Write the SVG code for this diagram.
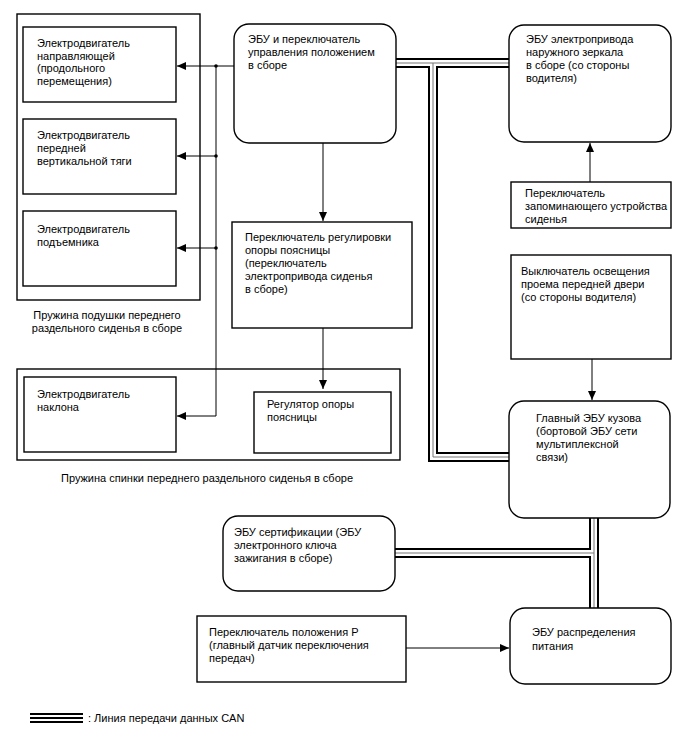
<svg xmlns="http://www.w3.org/2000/svg" width="688" height="755" viewBox="0 0 688 755">
<defs>
<style>
.box{fill:#fff;stroke:#000;stroke-width:1.4}
.grp{fill:none;stroke:#000;stroke-width:1.4}
.t{font-family:"Liberation Sans",Arial,sans-serif;font-size:11px;fill:#000}
.c{fill:none;stroke:#000;stroke-width:1}
.canA{fill:none;stroke:#000;stroke-width:10}
.canB{fill:none;stroke:#fff;stroke-width:6}
.canC{fill:none;stroke:#777;stroke-width:1}
</style>
<marker id="ah" markerWidth="10" markerHeight="8" refX="9" refY="4" orient="auto" markerUnits="userSpaceOnUse">
<path d="M0,0 L9,4 L0,8 Z" fill="#000"/>
</marker>
</defs>

<g id="connectors">
<path class="c" d="M234,66 H177" marker-end="url(#ah)"/>
<path class="c" d="M216,66 V416 H177" marker-end="url(#ah)"/>
<path class="c" d="M216,156 H177" marker-end="url(#ah)"/>
<path class="c" d="M216,248 H177" marker-end="url(#ah)"/>
<circle cx="216" cy="66" r="1.8"/>
<circle cx="216" cy="156" r="1.8"/>
<circle cx="216" cy="248" r="1.8"/>
<path class="c" d="M323,143 V221" marker-end="url(#ah)"/>
<path class="c" d="M323,328 V389" marker-end="url(#ah)"/>
<path class="c" d="M590,182 V143" marker-end="url(#ah)"/>
<path class="c" d="M592,359 V400" marker-end="url(#ah)"/>
<path class="c" d="M406,648 H509" marker-end="url(#ah)"/>
<g id="can">
<path class="canA" d="M396,63 H509 M433,63 V457 H509 M594,518 V608 M395,553 H594"/>
<path class="canB" d="M396,63 H509 M433,63 V457 H509 M594,518 V608 M395,553 H594"/>
<path class="canC" d="M396,63 H509 M433,63 V457 H509 M594,518 V608 M395,553 H594"/>
</g>
</g>

<g id="seat-cushion-group">
<rect class="grp" x="17" y="14" width="183" height="286"/>
<text class="t" x="107" y="319" text-anchor="middle">Пружина подушки переднего</text>
<text class="t" x="107" y="332" text-anchor="middle">раздельного сиденья в сборе</text>
</g>
<g id="seatback-group">
<rect class="grp" x="17" y="369" width="383" height="91"/>
<text class="t" x="207" y="482" text-anchor="middle">Пружина спинки переднего раздельного сиденья в сборе</text>
</g>

<g id="slide-motor">
<rect class="box" x="23" y="27" width="153" height="75"/>
<text class="t" x="37" y="47">Электродвигатель</text>
<text class="t" x="37" y="59.5">направляющей</text>
<text class="t" x="37" y="72">(продольного</text>
<text class="t" x="37" y="84.5">перемещения)</text>
</g>
<g id="front-vertical-motor">
<rect class="box" x="23" y="119" width="153" height="75"/>
<text class="t" x="37" y="139">Электродвигатель</text>
<text class="t" x="37" y="152">передней</text>
<text class="t" x="37" y="165">вертикальной тяги</text>
</g>
<g id="lifter-motor">
<rect class="box" x="23" y="211" width="153" height="75"/>
<text class="t" x="37" y="233">Электродвигатель</text>
<text class="t" x="37" y="245.5">подъемника</text>
</g>
<g id="recline-motor">
<rect class="box" x="24" y="377" width="152" height="75"/>
<text class="t" x="37" y="398">Электродвигатель</text>
<text class="t" x="37" y="410.5">наклона</text>
</g>
<g id="lumbar-adjuster">
<rect class="box" x="254" y="392" width="137" height="61"/>
<text class="t" x="267" y="408">Регулятор опоры</text>
<text class="t" x="267" y="420.5">поясницы</text>
</g>

<g id="position-ecu">
<rect class="box" x="234" y="24" width="162" height="119" rx="15" ry="15"/>
<text class="t" x="248" y="43">ЭБУ и переключатель</text>
<text class="t" x="248" y="56">управления положением</text>
<text class="t" x="248" y="69">в сборе</text>
</g>
<g id="lumbar-switch">
<rect class="box" x="232" y="222" width="180" height="106"/>
<text class="t" x="245" y="241">Переключатель регулировки</text>
<text class="t" x="245" y="254">опоры поясницы</text>
<text class="t" x="245" y="267">(переключатель</text>
<text class="t" x="245" y="280">электропривода сиденья</text>
<text class="t" x="245" y="293">в сборе)</text>
</g>

<g id="mirror-ecu">
<rect class="box" x="509" y="25" width="162" height="117" rx="15" ry="15"/>
<text class="t" x="526" y="43">ЭБУ электропривода</text>
<text class="t" x="526" y="56">наружного зеркала</text>
<text class="t" x="526" y="69">в сборе (со стороны</text>
<text class="t" x="526" y="82">водителя)</text>
</g>
<g id="memory-switch">
<rect class="box" x="511" y="182" width="160" height="46"/>
<text class="t" x="525" y="197">Переключатель</text>
<text class="t" x="525" y="210">запоминающего устройства</text>
<text class="t" x="525" y="223">сиденья</text>
</g>
<g id="courtesy-switch">
<rect class="box" x="511" y="255" width="160" height="104"/>
<text class="t" x="521" y="275">Выключатель освещения</text>
<text class="t" x="521" y="288">проема передней двери</text>
<text class="t" x="521" y="301">(со стороны водителя)</text>
</g>
<g id="main-body-ecu">
<rect class="box" x="509" y="401" width="161" height="117" rx="15" ry="15"/>
<text class="t" x="536" y="422">Главный ЭБУ кузова</text>
<text class="t" x="536" y="435">(бортовой ЭБУ сети</text>
<text class="t" x="536" y="448">мультиплексной</text>
<text class="t" x="536" y="461">связи)</text>
</g>
<g id="certification-ecu">
<rect class="box" x="223" y="516" width="172" height="75" rx="15" ry="15"/>
<text class="t" x="234" y="536">ЭБУ сертификации (ЭБУ</text>
<text class="t" x="234" y="549">электронного ключа</text>
<text class="t" x="234" y="562">зажигания в сборе)</text>
</g>
<g id="park-switch">
<rect class="box" x="197" y="616" width="209" height="66"/>
<text class="t" x="209" y="636">Переключатель положения P</text>
<text class="t" x="209" y="649">(главный датчик переключения</text>
<text class="t" x="209" y="662">передач)</text>
</g>
<g id="power-ecu">
<rect class="box" x="510" y="608" width="161" height="76" rx="15" ry="15"/>
<text class="t" x="532" y="636">ЭБУ распределения</text>
<text class="t" x="532" y="650">питания</text>
</g>

<g id="legend">
<path d="M30,714 H83 M30,718 H83 M30,722 H83" stroke="#000" stroke-width="1.8" fill="none"/>
<text class="t" x="88" y="722">: Линия передачи данных CAN</text>
</g>
</svg>
